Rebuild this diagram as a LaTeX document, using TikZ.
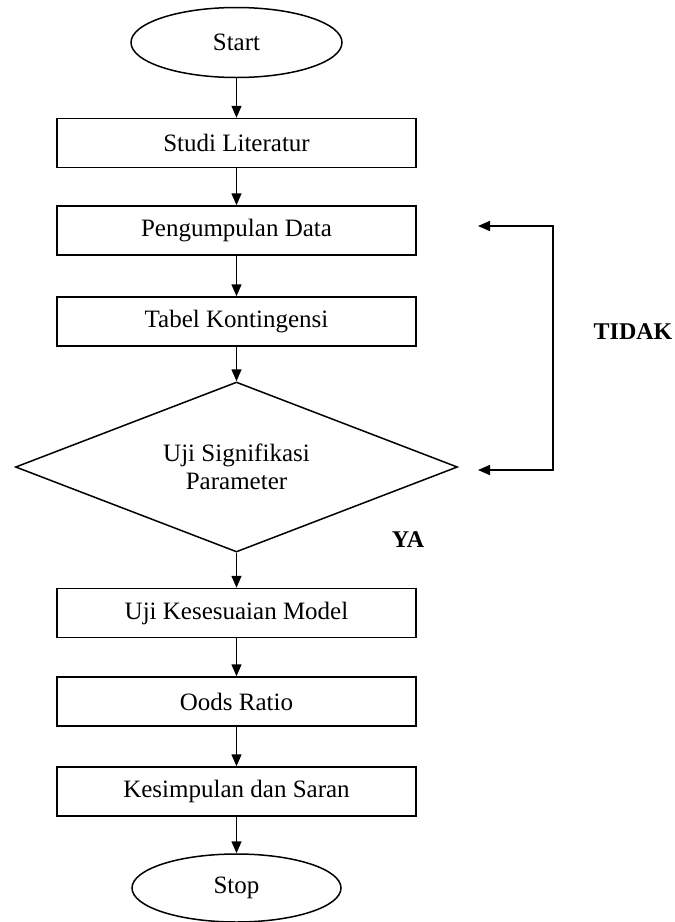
\documentclass[tikz,border=0pt]{standalone}
\usepackage{fontspec}
\setmainfont{Liberation Serif}
\usetikzlibrary{shapes.geometric,arrows.meta}
\begin{document}
\begin{tikzpicture}[x=1pt,y=-1pt,
  txt/.style={font=\fontsize{25}{28}\selectfont},
  proc/.style={txt, draw, line width=1.5pt, minimum width=359pt, minimum height=49pt, inner sep=0pt},
  term/.style={txt, draw, ellipse, line width=1.5pt, minimum width=211pt, minimum height=70pt, inner sep=0pt},
  dec/.style={txt, draw, diamond, aspect=2.6, line width=1.5pt, minimum width=442pt, minimum height=170pt, inner sep=0pt, align=center},
  flow/.style={-{Triangle[length=12pt,width=10pt]}, line width=1.5pt},
  both/.style={{Triangle[length=12pt,width=10pt]}-{Triangle[length=12pt,width=10pt]}, line width=1.5pt},
  lbl/.style={font=\fontsize{24}{28}\selectfont\bfseries}
]
\useasboundingbox (0,0) rectangle (675,922);
\node[term] (start) at (236.5,42.5) {Start};
\node[proc] (s1) at (236.5,143) {Studi Literatur};
\node[proc] (s2) at (236.5,230.5) {Pengumpulan Data};
\node[proc] (s3) at (236.5,321.5) {Tabel Kontingensi};
\node[dec] (d) at (236.5,467) {Uji Signifikasi\\Parameter};
\node[proc] (s4) at (236.5,613) {Uji Kesesuaian Model};
\node[proc] (s5) at (236.5,701.5) {Oods Ratio};
\node[proc] (s6) at (236.5,791.5) {Kesimpulan dan Saran};
\node[term, minimum width=209pt, minimum height=68pt] (stop) at (236.5,888) {Stop};

\draw[flow] (start.south) -- (s1.north);
\draw[flow] (s1.south) -- (s2.north);
\draw[flow] (s2.south) -- (s3.north);
\draw[flow] (s3.south) -- (d.north);
\draw[flow] (d.south) -- (s4.north);
\draw[flow] (s4.south) -- (s5.north);
\draw[flow] (s5.south) -- (s6.north);
\draw[flow] (s6.south) -- (stop.north);

\coordinate (fbA) at (478,226);
\coordinate (fbB) at (553,226);
\coordinate (fbC) at (553,470);
\coordinate (fbD) at (478,470);
\draw[both] (fbA) -- (fbB) -- (fbC) -- (fbD);

\node[lbl] (tidak) at (633,332) {TIDAK};
\node[lbl] (ya) at (408,540) {YA};
\end{tikzpicture}
\end{document}
